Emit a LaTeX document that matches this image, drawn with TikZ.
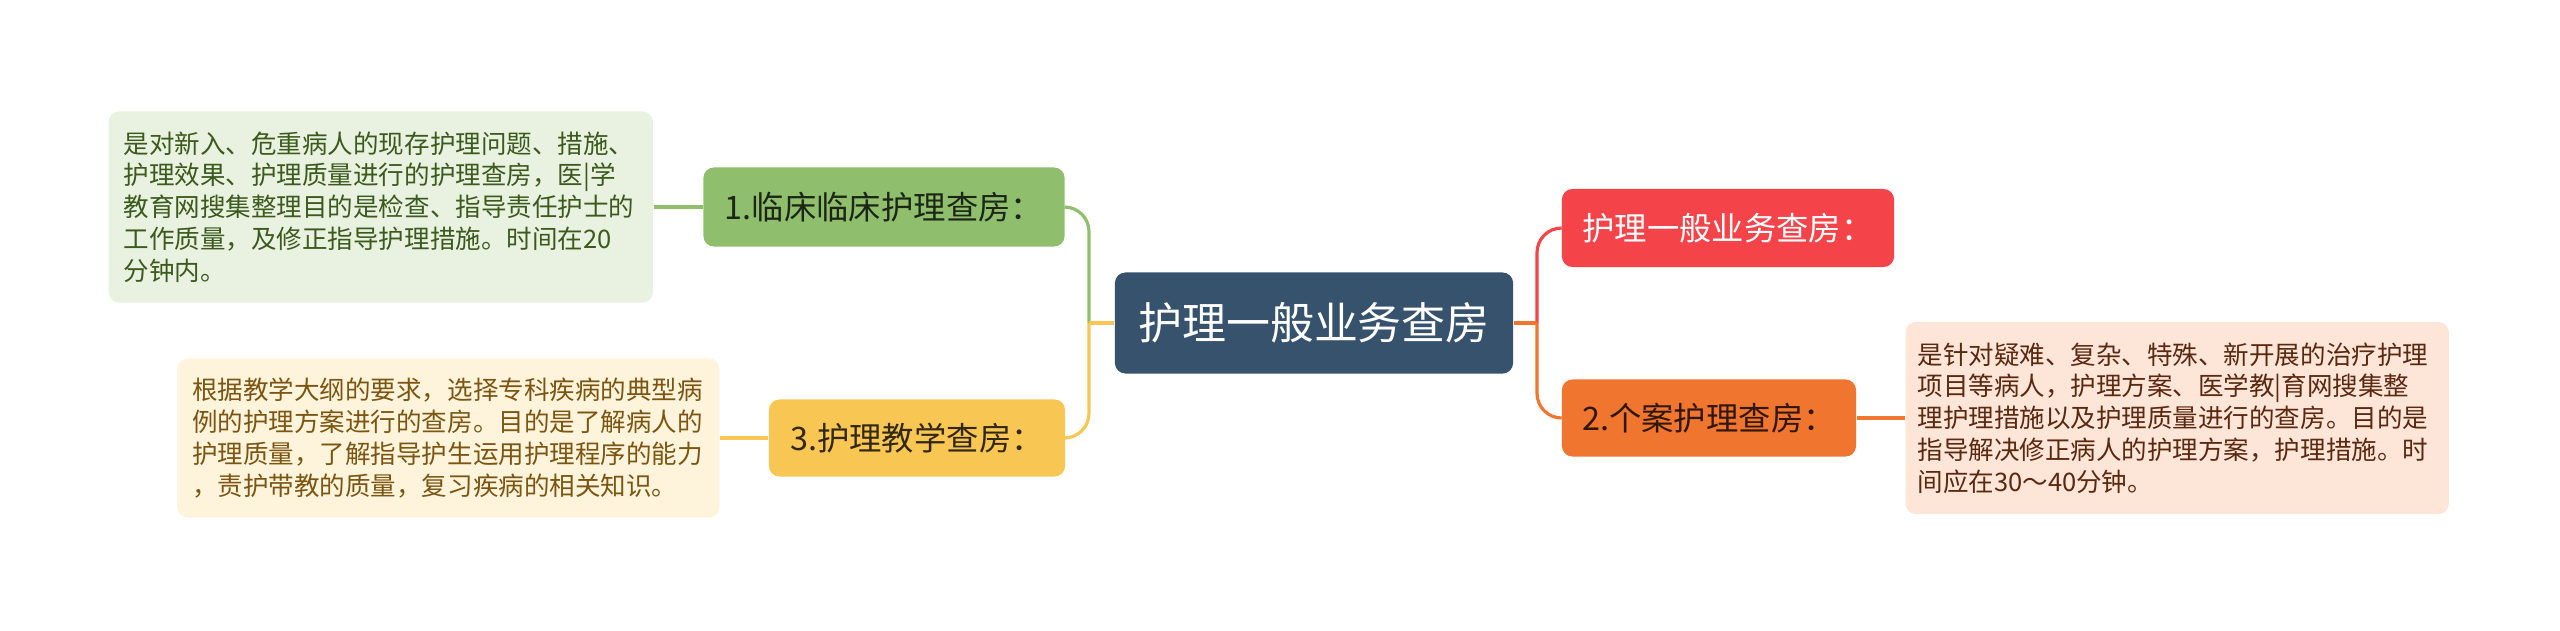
\documentclass[tikz,border=0pt]{standalone}
\usepackage{fontspec}
\setmainfont{Noto Sans CJK SC}
\usepackage{xcolor}
\usepackage{tikz}
\usetikzlibrary{positioning}

\definecolor{rootblue}{HTML}{37526D}
\definecolor{topicred}{HTML}{F5434A}
\definecolor{topicorange}{HTML}{F0752E}
\definecolor{topicgreen}{HTML}{8FBE6C}
\definecolor{topicyellow}{HTML}{F8C653}
\definecolor{notegreen}{HTML}{E9F1E1}
\definecolor{noteyellow}{HTML}{FEF4DC}
\definecolor{noteorange}{HTML}{FDE5D8}
\definecolor{textgreen}{HTML}{3B5A1C}
\definecolor{textyellow}{HTML}{7B5511}
\definecolor{textorange}{HTML}{5B2810}

\begin{document}
\begin{tikzpicture}[x=0.01cm, y=-0.01cm,
    topic/.style={rectangle, rounded corners=3pt, inner sep=0pt, font=\fontsize{9.2}{11}\selectfont},
    note/.style={rectangle, rounded corners=3pt, align=left, inner ysep=0pt, font=\fontsize{7.26}{9.02}\selectfont},
    link/.style={line width=0.9pt}]
    \useasboundingbox (0,0) rectangle (2560,630);

    \node (root) [topic, fill=rootblue, text=white, minimum width=3.98cm, minimum height=1.01cm, font=\fontsize{12.5}{14}\selectfont] at (1314,323) {护理一般业务查房};

    \node (general) [topic, fill=topicred, text=white, minimum width=3.32cm, minimum height=0.78cm] at (1728,228) {护理一般业务查房：};
    \node (case) [topic, fill=topicorange, text=black!80!topicorange, minimum width=2.94cm, minimum height=0.77cm] at (1709,418) {2.个案护理查房：};
    \node (clinic) [topic, fill=topicgreen, text=black!80!topicgreen, minimum width=3.61cm, minimum height=0.79cm] at (884,207) {1.临床临床护理查房：};
    \node (teach) [topic, fill=topicyellow, text=black!80!topicyellow, minimum width=2.96cm, minimum height=0.77cm] at (917,438) {3.护理教学查房：};

    \node (clinicnote) [note, fill=notegreen, text=textgreen, text width=5.14cm, inner xsep=0.15cm, minimum height=1.91cm, left=0.49cm of clinic] {是对新入、危重病人的现存护理问题、措施、\\护理效果、护理质量进行的护理查房，医|学\\教育网搜集整理目的是检查、指导责任护士的\\工作质量，及修正指导护理措施。时间在20\\分钟内。};
    \node (teachnote) [note, fill=noteyellow, text=textyellow, text width=5.12cm, inner xsep=0.15cm, minimum height=1.59cm, left=0.48cm of teach] {根据教学大纲的要求，选择专科疾病的典型病\\例的护理方案进行的查房。目的是了解病人的\\护理质量，了解指导护生运用护理程序的能力\\，责护带教的质量，复习疾病的相关知识。};
    \node (casenote) [note, fill=noteorange, text=textorange, text width=5.19cm, inner xsep=0.12cm, minimum height=1.92cm, right=0.48cm of case] {是针对疑难、复杂、特殊、新开展的治疗护理\\项目等病人，护理方案、医学教|育网搜集整\\理护理措施以及护理质量进行的查房。目的是\\指导解决修正病人的护理方案，护理措施。时\\间应在30～40分钟。};

    \coordinate (leftfork) at (1089,323);
    \coordinate (rightfork) at (1537,323);

    \draw [link, topicgreen] (root.west) -- (leftfork);
    \draw [link, topicgreen, rounded corners=7pt] (leftfork) |- (clinic.east);
    \draw [link, topicyellow] (root.west) -- (leftfork);
    \draw [link, topicyellow, rounded corners=7pt] (leftfork) |- (teach.east);
    \draw [link, topicred] (root.east) -- (rightfork);
    \draw [link, topicred, rounded corners=7pt] (rightfork) |- (general.west);
    \draw [link, topicorange] (root.east) -- (rightfork);
    \draw [link, topicorange, rounded corners=7pt] (rightfork) |- (case.west);

    \draw [link, topicgreen] (clinic) -- (clinicnote);
    \draw [link, topicyellow] (teach) -- (teachnote);
    \draw [link, topicorange] (case) -- (casenote);
\end{tikzpicture}
\end{document}
